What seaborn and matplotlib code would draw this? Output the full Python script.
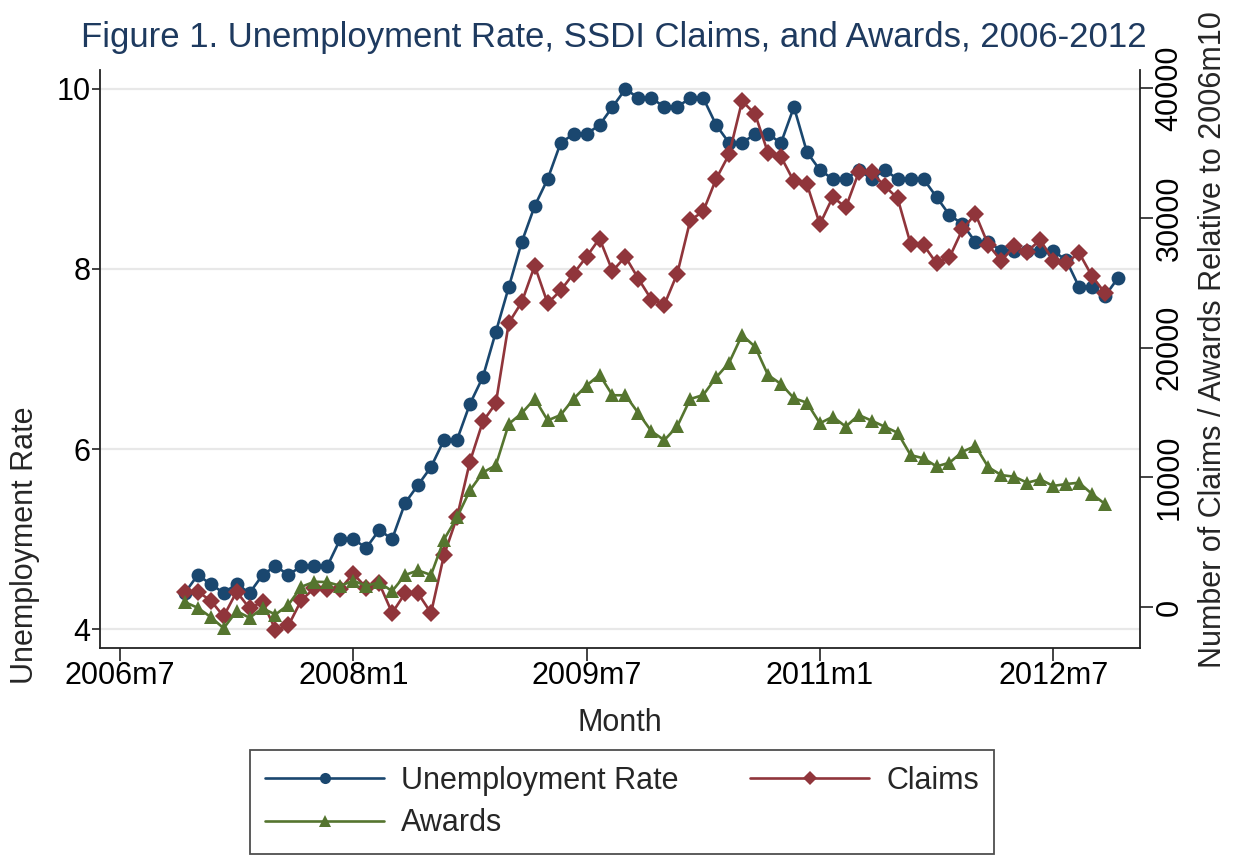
import matplotlib
matplotlib.use("Agg")
import matplotlib.pyplot as plt
import numpy as np
import pandas as pd
import seaborn as sns
from matplotlib.lines import Line2D

# Monthly series, 2006m12 onward
months_ur = pd.period_range("2006-12", "2012-12", freq="M")
months_ssdi = pd.period_range("2006-12", "2012-11", freq="M")

unemployment_rate = [
    4.4,
    4.6, 4.5, 4.4, 4.5, 4.4, 4.6, 4.7, 4.6, 4.7, 4.7, 4.7, 5.0,
    5.0, 4.9, 5.1, 5.0, 5.4, 5.6, 5.8, 6.1, 6.1, 6.5, 6.8, 7.3,
    7.8, 8.3, 8.7, 9.0, 9.4, 9.5, 9.5, 9.6, 9.8, 10.0, 9.9, 9.9,
    9.8, 9.8, 9.9, 9.9, 9.6, 9.4, 9.4, 9.5, 9.5, 9.4, 9.8, 9.3,
    9.1, 9.0, 9.0, 9.1, 9.0, 9.1, 9.0, 9.0, 9.0, 8.8, 8.6, 8.5,
    8.3, 8.3, 8.2, 8.2, 8.2, 8.2, 8.2, 8.1, 7.8, 7.8, 7.7, 7.9,
]

claims = [
    1180, 1180, 500, -720, 1180, -100, 410, -1750, -1420, 540,
    1440, 1400, 1400, 2560, 1500, 1830, -460, 1060, 1050, -460,
    4000, 6900, 11200, 14300, 15700, 21900, 23500, 26300, 23400, 24400,
    25700, 27000, 28400, 25900, 27000, 25300, 23700, 23300, 25700, 29800,
    30500, 33000, 34900, 39000, 38000, 35000, 34700, 32800, 32600, 29500,
    31600, 30800, 33500, 33500, 32450, 31500, 28000, 27900, 26500, 26950,
    29100, 30300, 27900, 26700, 27800, 27400, 28300, 26700, 26500, 27300,
    25500, 24200,
]

awards = [
    380, -60, -770, -1640, -320, -830, -100, -580, 180, 1560,
    1950, 1920, 1630, 2030, 1630, 1900, 1220, 2470, 2820, 2470,
    5200, 6900, 8980, 10370, 10920, 14110, 14940, 16050, 14380, 14800,
    16050, 17070, 17900, 16320, 16320, 14940, 13550, 12860, 13930, 16030,
    16340, 17700, 18830, 20960, 20060, 17880, 17190, 16090, 15750, 14160,
    14670, 13900, 14800, 14360, 13900, 13430, 11710, 11460, 10840, 11120,
    11970, 12410, 10770, 10170, 10040, 9580, 9840, 9330, 9480, 9580,
    8710, 7940,
]

x_tick_labels = ["2006m7", "2008m1", "2009m7", "2011m1", "2012m7"]
left_ticks = [4, 6, 8, 10]
right_ticks = [0, 10000, 20000, 30000, 40000]

NAVY = "#1a476f"
MAROON = "#90353b"
GREEN = "#55752f"


def month_index(periods):
    """Months elapsed since 2006m7."""
    return np.array([(p.year - 2006) * 12 + (p.month - 7) for p in periods])


def label_index(label):
    y, m = label.split("m")
    return (int(y) - 2006) * 12 + (int(m) - 7)


sns.set_theme(style="white")
plt.rcParams["font.family"] = ["Liberation Sans", "DejaVu Sans"]

W, H = 1235, 856
fig = plt.figure(figsize=(W / 100, H / 100), dpi=100)
fig.patch.set_facecolor("white")

ax = fig.add_axes([100 / W, (H - 648) / H, 1040 / W, 578 / H])
ax2 = ax.twinx()

ur_df = pd.DataFrame({"month": month_index(months_ur), "rate": unemployment_rate})
ssdi_df = pd.DataFrame({
    "month": month_index(months_ssdi),
    "claims": claims,
    "awards": awards,
})

line_kw = dict(linewidth=1.9, markeredgewidth=0, legend=False)
sns.lineplot(data=ur_df, x="month", y="rate", ax=ax, color=NAVY,
             marker="o", markersize=10, **line_kw)
sns.lineplot(data=ssdi_df, x="month", y="claims", ax=ax2, color=MAROON,
             marker="D", markersize=9.5, **line_kw)
sns.lineplot(data=ssdi_df, x="month", y="awards", ax=ax2, color=GREEN,
             marker="^", markersize=10.5, **line_kw)

# axis ranges
ax.set_xlim(-1.54, 78.7)
ax.set_ylim(3.789, 10.211)
ax2.set_ylim(-3160, 41390)

ax.set_xticks([label_index(s) for s in x_tick_labels])
ax.set_xticklabels(x_tick_labels)
ax.set_yticks(left_ticks)
ax.set_yticklabels([str(v) for v in left_ticks])
ax2.set_yticks(right_ticks)
ax2.set_yticklabels([str(v) for v in right_ticks], rotation=90, va="center")

ax.yaxis.grid(True, color="#e8e8e8", linewidth=1.6)
ax.xaxis.grid(False)
ax.set_axisbelow(True)

for a in (ax, ax2):
    a.set_facecolor("none")
    a.set_xlabel("")
    a.set_ylabel("")
    for side in ("top", "left", "right", "bottom"):
        a.spines[side].set_visible(False)

for side in ("left", "bottom"):
    ax.spines[side].set_visible(True)
    ax.spines[side].set_color("#222222")
    ax.spines[side].set_linewidth(1.3)
ax2.spines["right"].set_visible(True)
ax2.spines["right"].set_color("#222222")
ax2.spines["right"].set_linewidth(1.3)

tick_kw = dict(direction="out", width=1.2, color="#222222",
               labelsize=22, labelcolor="black")
ax.tick_params(axis="x", length=9.4, pad=0, bottom=True, **tick_kw)
ax.tick_params(axis="y", length=6, pad=1, left=True, **tick_kw)
ax2.tick_params(axis="y", length=9.4, pad=1, right=True, **tick_kw)

ax.set_xlabel("Month", fontsize=22, labelpad=12)

fig.text(25 / W, 1 - 545 / H, "Unemployment Rate", rotation=90,
         fontsize=22, ha="center", va="center")
fig.text(1213 / W, 1 - 340 / H, "Number of Claims / Awards Relative to 2006m10",
         rotation=90, fontsize=22, ha="center", va="center")
fig.text(614 / W, 1 - 38 / H,
         "Figure 1. Unemployment Rate, SSDI Claims, and Awards, 2006-2012",
         fontsize=25, color="#1e3a5f", ha="center", va="center")

handles = [
    Line2D([], [], color=NAVY, marker="o", markersize=8, markeredgewidth=0,
           linewidth=1.9, label="Unemployment Rate"),
    Line2D([], [], color=GREEN, marker="^", markersize=8.5, markeredgewidth=0,
           linewidth=1.9, label="Awards"),
    Line2D([], [], color=MAROON, marker="D", markersize=7.5, markeredgewidth=0,
           linewidth=1.9, label="Claims"),
]
leg = fig.legend(handles=handles, ncol=2, loc="center",
                 bbox_to_anchor=(622 / W, 1 - 802 / H), fontsize=22,
                 frameon=True, fancybox=False, edgecolor="#222222",
                 handlelength=3.9, handletextpad=0.55, columnspacing=2.35,
                 labelspacing=0.42, borderpad=0.5)
leg.get_frame().set_linewidth(1.3)

fig.savefig("out.png", dpi=100, facecolor="white")
